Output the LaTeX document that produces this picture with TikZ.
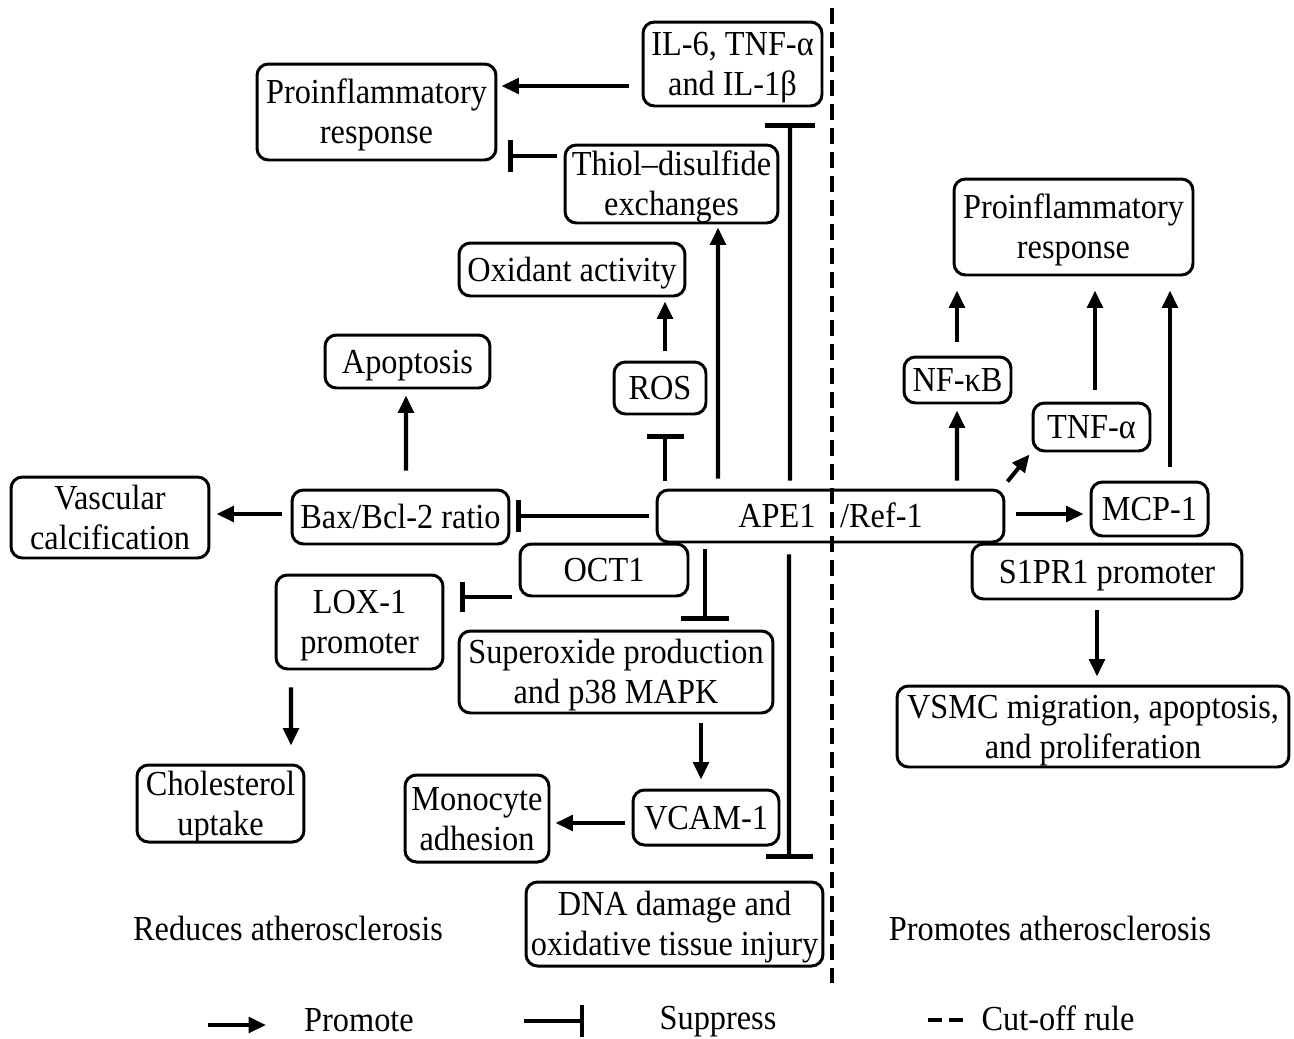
\documentclass[tikz,border=0pt]{standalone}
\usepackage{fontspec}
\setmainfont[FakeStretch=0.92]{Liberation Serif}
\usetikzlibrary{arrows.meta}
\tikzset{
  bx/.style={draw, line width=1.7pt, rounded corners=6.5pt, inner sep=0pt, align=center, text height=13.2pt, text depth=0pt},
  two/.style={text height=36pt, text depth=0pt},
  pro/.style={line width=2.3pt, -{Triangle[length=0.35cm, width=0.31cm]}},
  supp/.style={line width=2.3pt, -{Bar[width=#1]}},
  cut/.style={line width=2.3pt, dash pattern=on 0.32cm off 0.16cm},
  txt/.style={inner sep=0pt}
}
\begin{document}
\begin{tikzpicture}[x=0.02cm, y=-0.02cm, every node/.style={font=\fontsize{20}{22.8}\selectfont}]
\useasboundingbox (0,0) rectangle (1294,1038);
% boxes
\node[bx, two, minimum width=3.58cm, minimum height=1.68cm] (il6) at (732.5,64) {IL-6, TNF-α\\and IL-1β};
\node[bx, two, minimum width=4.78cm, minimum height=1.92cm] (pro1) at (376.5,112) {Proinflammatory\\response};
\node[bx, two, minimum width=4.26cm, minimum height=1.56cm] (thiol) at (671.5,184) {Thiol–disulfide\\exchanges};
\node[bx, minimum width=4.52cm, minimum height=1.06cm] (oxid) at (572,269.5) {Oxidant activity};
\node[bx, minimum width=3.30cm, minimum height=1.06cm] (apop) at (407.5,361.5) {Apoptosis};
\node[bx, minimum width=1.84cm, minimum height=1.04cm] (ros) at (660,388) {ROS};
\node[bx, two, minimum width=3.96cm, minimum height=1.62cm] (vasc) at (110,517.5) {Vascular\\calcification};
\node[bx, minimum width=4.34cm, minimum height=1.08cm] (bax) at (400.5,517) {Bax/Bcl-2 ratio};
\node[bx, minimum width=6.94cm, minimum height=1.04cm] (ape) at (830.5,516) {APE1\hspace{0.7em}/Ref-1};
\node[bx, minimum width=3.36cm, minimum height=1.04cm] (oct) at (604,570) {OCT1};
\node[bx, two, minimum width=3.34cm, minimum height=1.88cm] (lox) at (359.5,622) {LOX-1\\promoter};
\node[bx, two, minimum width=6.28cm, minimum height=1.64cm] (sup) at (616,672) {Superoxide production\\and p38 MAPK};
\node[bx, two, minimum width=3.34cm, minimum height=1.54cm] (chol) at (220.5,803.5) {Cholesterol\\uptake};
\node[bx, two, minimum width=2.88cm, minimum height=1.74cm] (mono) at (477,818.5) {Monocyte\\adhesion};
\node[bx, minimum width=2.92cm, minimum height=1.10cm] (vcam) at (706,817.5) {VCAM-1};
\node[bx, two, minimum width=5.94cm, minimum height=1.68cm] (dna) at (674.5,924) {DNA damage and\\oxidative tissue injury};
\node[bx, two, minimum width=4.78cm, minimum height=1.92cm] (pro2) at (1073.5,227) {Proinflammatory\\response};
\node[bx, minimum width=2.14cm, minimum height=0.92cm] (nfkb) at (957.5,380) {NF-κB};
\node[bx, minimum width=2.34cm, minimum height=0.96cm] (tnf) at (1091.5,427) {TNF-α};
\node[bx, minimum width=2.34cm, minimum height=1.08cm] (mcp) at (1149.5,509) {MCP-1};
\node[bx, minimum width=5.40cm, minimum height=1.10cm] (s1pr) at (1107,571.5) {S1PR1 promoter};
\node[bx, two, minimum width=7.84cm, minimum height=1.62cm] (vsmc) at (1093,726.5) {VSMC migration, apoptosis,\\and proliferation};
% side labels
\node[txt] (red) at (288,928) {Reduces atherosclerosis};
\node[txt] (prm) at (1050,928) {Promotes atherosclerosis};
% cut-off line
\coordinate (cutT) at (832,8);
\coordinate (cutB) at (832,983);
\draw[cut] (cutT) -- (cutB);
% connectors
\draw[pro] ([shift={(-13,22)}]il6.west) -- ([shift={(4,-26)}]pro1.east);
\draw[supp=0.64cm] ([shift={(-7,-28)}]thiol.west) -- ([shift={(11,44)}]pro1.east);
\draw[supp=1.0cm] ([shift={(-40.5,-8)}]ape.north) -- ([shift={(57.5,16)}]il6.south);
\draw[pro] ([shift={(-112.5,-10)}]ape.north) -- ([shift={(46.5,3)}]thiol.south);
\draw[pro] ([shift={(5,-10)}]ros.north) -- ([shift={(93,4)}]oxid.south);
\draw[supp=0.74cm] ([shift={(-165.5,-8)}]ape.north) -- ([shift={(5,19)}]ros.south);
\draw[pro] ([shift={(5.5,-18)}]bax.north) -- ([shift={(-1.5,6)}]apop.south);
\draw[supp=0.64cm] ([shift={(-7,0)}]ape.west) -- ([shift={(6,-1)}]bax.east);
\draw[pro] ([shift={(-9,-3)}]bax.west) -- ([shift={(6,-3.5)}]vasc.east);
\draw[supp=0.60cm] ([shift={(-7,27)}]oct.west) -- ([shift={(16,-25)}]lox.east);
\draw[pro] ([shift={(-68.5,17)}]lox.south) -- ([shift={(70.5,-18)}]chol.north);
\draw[supp=0.96cm] ([shift={(-125.5,6)}]ape.south) -- ([shift={(89,-9)}]sup.north);
\draw[pro] ([shift={(85,9)}]sup.south) -- ([shift={(-5,-9)}]vcam.north);
\draw[pro] ([shift={(-7,5.5)}]vcam.west) -- ([shift={(5,4.5)}]mono.east);
\draw[supp=0.94cm] ([shift={(-41.5,11)}]ape.south) -- ([shift={(114.5,-22)}]dna.north);
\draw[pro] ([shift={(126.5,-8)}]ape.north) -- ([shift={(-0.5,6)}]nfkb.south);
\draw[pro] ([shift={(-0.5,-14)}]nfkb.north) -- ([shift={(-116.5,14)}]pro2.south);
\draw[pro] ([shift={(2,-7)}]ape.north east) -- ([shift={(-2,2)}]tnf.south west);
\draw[pro] ([shift={(3.5,-12)}]tnf.north) -- ([shift={(21.5,14)}]pro2.south);
\draw[pro] ([shift={(20.5,-14)}]mcp.north) -- ([shift={(96.5,14)}]pro2.south);
\draw[pro] ([shift={(11,-2)}]ape.east) -- ([shift={(-6,5)}]mcp.west);
\draw[pro] ([shift={(-10,10)}]s1pr.south) -- ([shift={(4,-8)}]vsmc.north);
% legend
\coordinate (lpA) at (208,1025);
\coordinate (lpB) at (266,1025);
\draw[pro] (lpA) -- (lpB);
\node[txt] (lpt) at (359,1020) {Promote};
\coordinate (lsA) at (524,1021);
\coordinate (lsB) at (584,1021);
\draw[supp=0.64cm] (lsA) -- (lsB);
\node[txt] (lst) at (718,1022) {Suppress};
\coordinate (lcA) at (928,1020);
\coordinate (lcB) at (964,1020);
\draw[line width=2.3pt, dash pattern=on 0.28cm off 0.14cm] (lcA) -- (lcB);
\node[txt] (lct) at (1058,1018) {Cut-off rule};
\end{tikzpicture}
\end{document}
